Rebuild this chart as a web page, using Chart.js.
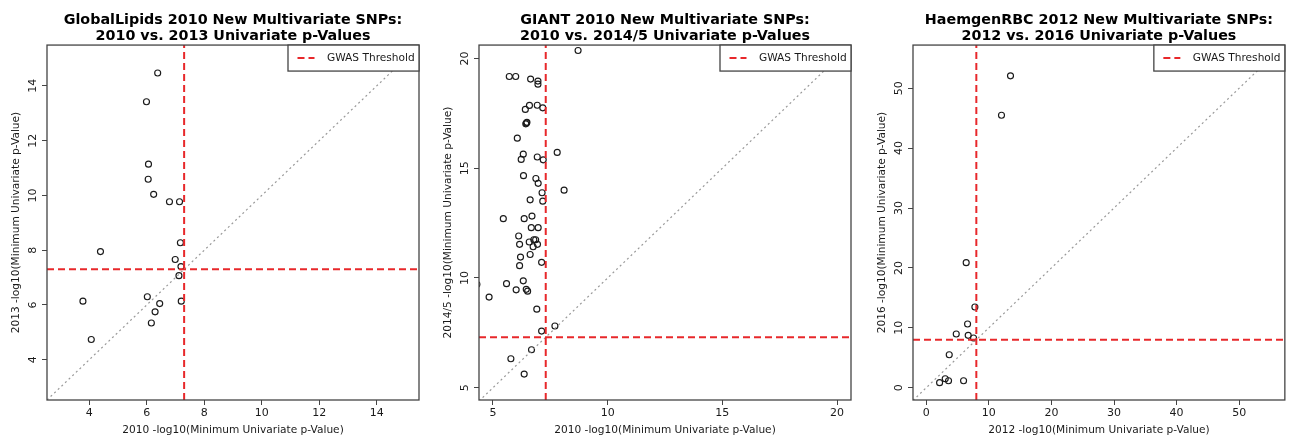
<!DOCTYPE html>
<html>
<head>
<meta charset="utf-8">
<script src="https://cdn.jsdelivr.net/npm/chart.js@4/dist/chart.umd.min.js"></script>
<style>
  body { margin: 0; background: #fff; }
  #wrap { position: relative; width: 1290px; height: 436px; }
  .panel { position: absolute; top: 0; height: 436px; }
</style>
</head>
<body>
<div id="wrap">
  <div class="panel" style="left:0px;width:430px"><canvas id="c1" width="430" height="436"></canvas></div>
  <div class="panel" style="left:432px;width:430px"><canvas id="c2" width="430" height="436"></canvas></div>
  <div class="panel" style="left:866px;width:424px"><canvas id="c3" width="424" height="436"></canvas></div>
</div>
<script>
// GlobalLipids: 2010 vs 2013
const lipidsX = [6.38, 5.99, 6.06, 6.05, 6.24, 6.79, 7.14, 4.39, 7.17, 6.99, 7.19, 7.12, 3.78, 6.02, 7.20, 6.45, 6.29, 6.16, 4.07];
const lipidsY = [14.47, 13.42, 11.14, 10.59, 10.04, 9.77, 9.77, 7.95, 8.27, 7.66, 7.40, 7.07, 6.14, 6.30, 6.14, 6.05, 5.75, 5.34, 4.74];

// GIANT: 2010 vs 2014/5
const giantX = [8.71, 5.71, 5.99, 6.64, 6.96, 6.96, 6.59, 6.93, 6.41, 7.17, 6.48, 6.43, 6.46, 6.06, 6.32, 6.23, 6.93, 7.19, 7.80,
  6.33, 6.87, 6.97, 7.14, 8.10, 6.62, 7.17, 6.70, 5.45, 6.36, 6.67, 6.97, 6.12, 6.58, 6.78, 6.86, 6.16, 6.94, 6.75,
  6.20, 6.62, 7.12, 6.16, 6.32, 5.59, 6.01, 6.45, 6.51, 4.83, 4.30, 6.91, 7.70, 7.12, 6.68, 5.78, 6.36];
const giantY = [20.36, 19.18, 19.18, 19.06, 18.97, 18.83, 17.86, 17.87, 17.68, 17.75, 17.09, 17.02, 17.06, 16.37, 15.64, 15.40, 15.51, 15.38, 15.72,
  14.66, 14.53, 14.31, 13.88, 14.00, 13.56, 13.50, 12.82, 12.70, 12.70, 12.29, 12.29, 11.91, 11.64, 11.74, 11.74, 11.53, 11.53, 11.42,
  10.95, 11.07, 10.71, 10.56, 9.87, 9.74, 9.46, 9.48, 9.40, 9.13, 9.71, 8.58, 7.81, 7.58, 6.73, 6.32, 5.62];

// HaemgenRBC: 2012 vs 2016
const rbcX = [13.46, 12.02, 6.38, 7.77, 6.60, 4.79, 6.70, 7.55, 3.67, 2.13, 3.03, 3.56, 5.96];
const rbcY = [52.06, 45.49, 20.88, 13.47, 10.63, 8.96, 8.74, 8.30, 5.51, 0.84, 1.50, 1.17, 1.17];

const panelTitles = [
  ['GlobalLipids 2010 New Multivariate SNPs:', '2010 vs. 2013 Univariate p-Values'],
  ['GIANT 2010 New Multivariate SNPs:', '2010 vs. 2014/5 Univariate p-Values'],
  ['HaemgenRBC 2012 New Multivariate SNPs:', '2012 vs. 2016 Univariate p-Values']
];
const xLabels = ['2010 -log10(Minimum Univariate p-Value)', '2010 -log10(Minimum Univariate p-Value)', '2012 -log10(Minimum Univariate p-Value)'];
const yLabels = ['2013 -log10(Minimum Univariate p-Value)', '2014/5 -log10(Minimum Univariate p-Value)', '2016 -log10(Minimum Univariate p-Value)'];
const xLimits = [[2.53, 15.47], [4.39, 20.61], [-2.12, 57.3]];
const yLimits = [[2.53, 15.49], [4.44, 20.61], [-2.05, 57.2]];
const tickSteps = [2, 5, 10];
const gwasThresholds = [7.3, 7.3, 8];

const FONT = '"DejaVu Sans", sans-serif';
const TEXT = '#1a1a1a';
const RED = '#e8282b';

// frame, rotated y labels, legend box
const rStylePlugin = {
  id: 'rStyle',
  afterDraw(chart) {
    const { ctx, chartArea: a } = chart;
    const ys = chart.scales.y;
    ctx.save();
    ctx.strokeStyle = '#444';
    ctx.lineWidth = 1.3;
    ctx.strokeRect(a.left, a.top, a.right - a.left, a.bottom - a.top);

    ctx.fillStyle = TEXT;
    ctx.font = '11px ' + FONT;
    ctx.textAlign = 'center';
    ctx.textBaseline = 'middle';
    ys.ticks.forEach(t => {
      const y = ys.getPixelForValue(t.value);
      ctx.save();
      ctx.translate(a.left - 14, y);
      ctx.rotate(-Math.PI / 2);
      ctx.fillText(t.label, 0, 0);
      ctx.restore();
    });

    const w = 131, h = 26, lx = a.right - w, ly = a.top;
    ctx.fillStyle = '#fff';
    ctx.fillRect(lx, ly, w, h);
    ctx.strokeRect(lx, ly, w, h);
    ctx.strokeStyle = RED;
    ctx.lineWidth = 2;
    ctx.setLineDash([7, 4]);
    ctx.beginPath();
    ctx.moveTo(lx + 9.5, ly + 13);
    ctx.lineTo(lx + 26.5, ly + 13);
    ctx.stroke();
    ctx.setLineDash([]);
    ctx.fillStyle = TEXT;
    ctx.font = '10.6px ' + FONT;
    ctx.textAlign = 'left';
    ctx.fillText('GWAS Threshold', lx + 39, ly + 13.5);
    ctx.restore();
  }
};

function makePanel(id, i, xs, ys) {
  const [xMin, xMax] = xLimits[i];
  const [yMin, yMax] = yLimits[i];
  const thr = gwasThresholds[i];
  const lo = Math.min(xMin, yMin), hi = Math.max(xMax, yMax);
  const points = xs.map((x, k) => ({ x: x, y: ys[k] }));

  new Chart(document.getElementById(id), {
    type: 'scatter',
    data: {
      datasets: [
        { type: 'line', data: [{ x: thr, y: yMin }, { x: thr, y: yMax }], borderColor: RED, borderWidth: 2, borderDash: [7, 4], pointRadius: 0, clip: 0 },
        { type: 'line', data: [{ x: xMin, y: thr }, { x: xMax, y: thr }], borderColor: RED, borderWidth: 2, borderDash: [7, 4], pointRadius: 0, clip: 0 },
        { type: 'line', data: [{ x: lo, y: lo }, { x: hi, y: hi }], borderColor: '#999', borderWidth: 1.2, borderDash: [2, 3], pointRadius: 0, clip: 0 },
        { data: points, pointStyle: 'circle', pointRadius: 3, borderWidth: 1.15, borderColor: '#1a1a1a', backgroundColor: 'rgba(0,0,0,0)', clip: 0 }
      ]
    },
    options: {
      responsive: false,
      animation: false,
      devicePixelRatio: 1,
      layout: { padding: { left: 0, right: 430 - 419 - (i === 2 ? 6 : 0), top: 0, bottom: 0 } },
      plugins: {
        legend: { display: false },
        tooltip: { enabled: false },
        title: {
          display: true,
          fullSize: false,
          text: panelTitles[i],
          color: '#000',
          font: { family: FONT, size: 14.3, weight: 'bold', lineHeight: 1.17 },
          padding: { top: 11.6, bottom: 0 }
        }
      },
      scales: {
        x: {
          type: 'linear', min: xMin, max: xMax,
          afterFit: s => { s.height = 36; },
          grid: { drawOnChartArea: false, drawTicks: true, tickLength: 5, tickColor: '#444' },
          border: { display: false },
          ticks: { stepSize: tickSteps[i], includeBounds: false, color: TEXT, padding: 2, font: { family: FONT, size: 11 }, maxRotation: 0 },
          title: { display: true, text: xLabels[i], color: TEXT, font: { family: FONT, size: 10.6 }, padding: { top: 0, bottom: -0.5 } }
        },
        y: {
          type: 'linear', min: yMin, max: yMax,
          afterFit: s => { s.width = 47; },
          grid: { drawOnChartArea: false, drawTicks: true, tickLength: 5, tickColor: '#444' },
          border: { display: false },
          ticks: { stepSize: tickSteps[i], includeBounds: false, color: 'rgba(0,0,0,0)', font: { family: FONT, size: 11 } },
          title: { display: true, text: yLabels[i], color: TEXT, font: { family: FONT, size: 10.6 }, padding: { top: 9.5, bottom: 0 } }
        }
      }
    },
    plugins: [rStylePlugin]
  });
}

makePanel('c1', 0, lipidsX, lipidsY);
makePanel('c2', 1, giantX, giantY);
makePanel('c3', 2, rbcX, rbcY);
</script>
</body>
</html>
